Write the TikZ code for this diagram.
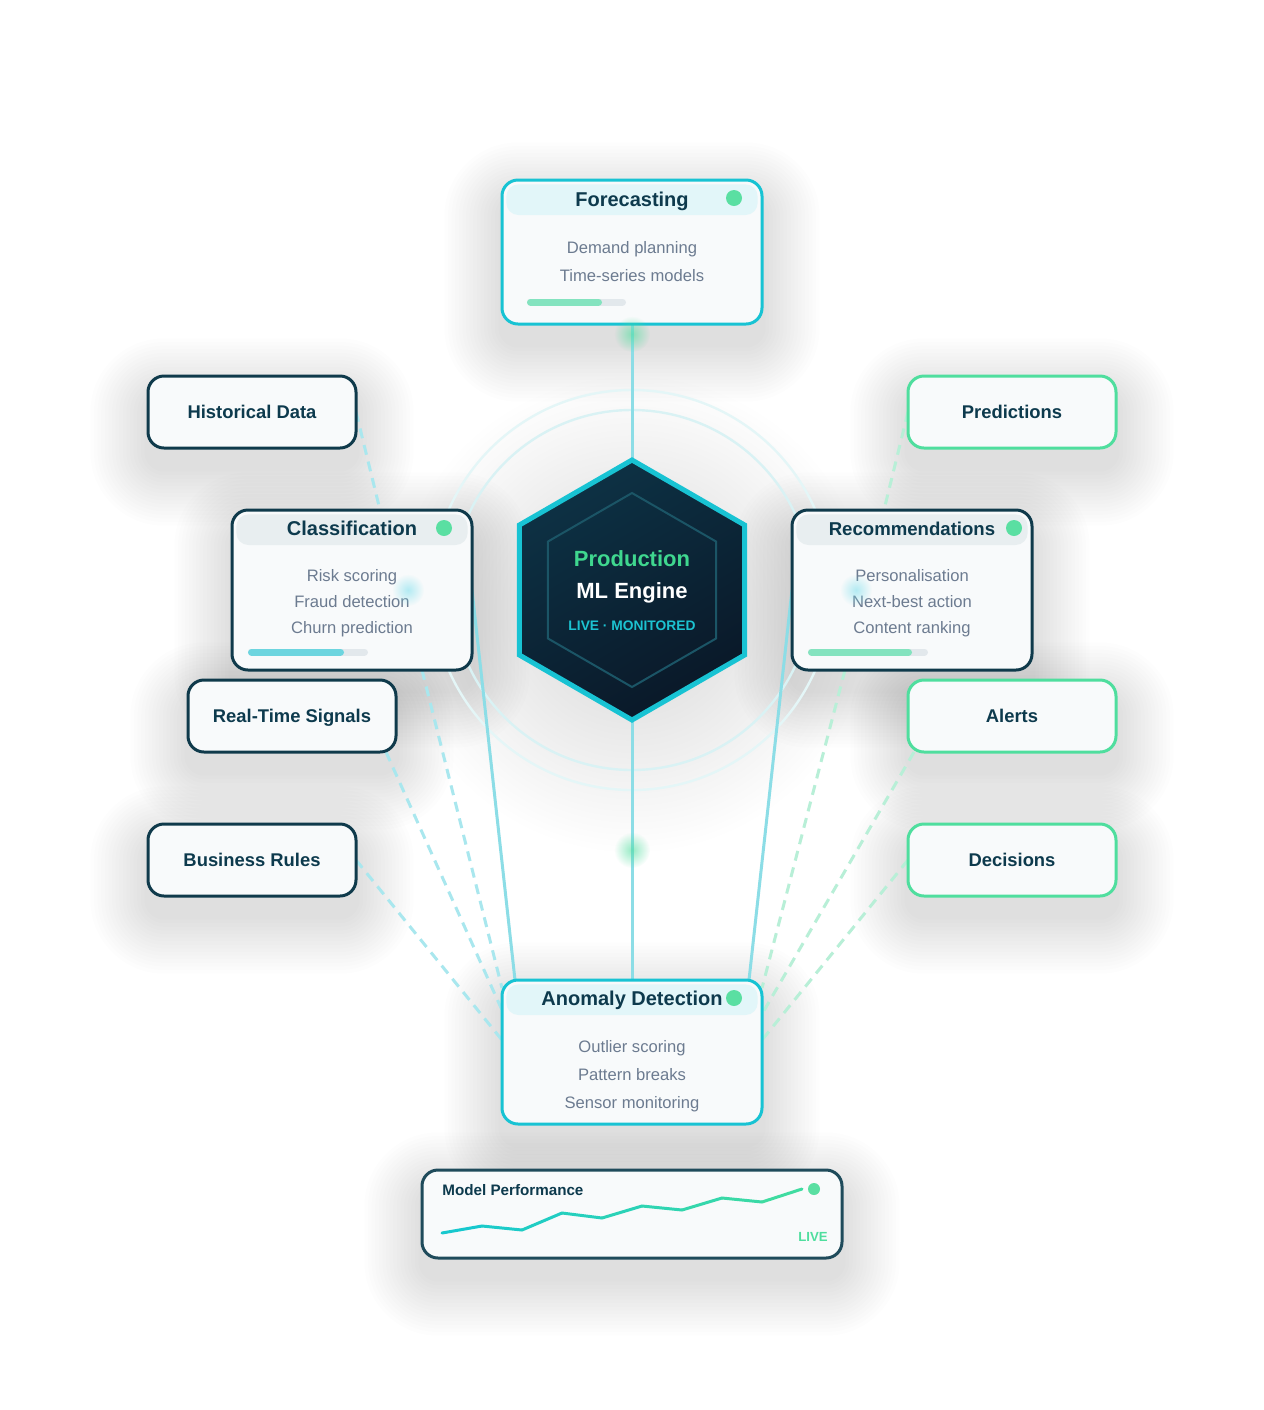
\documentclass[tikz,border=0pt]{standalone}
\usepackage{fontspec}
\setmainfont{Liberation Sans}
\usepackage{tikz}
\usetikzlibrary{calc,shapes.geometric,fadings}

\definecolor{cyanedge}{HTML}{18C3D3}
\definecolor{greenedge}{HTML}{4FDE9E}
\definecolor{navyedge}{HTML}{0F3A4B}
\definecolor{perfedge}{HTML}{1F4B5B}
\definecolor{cardfill}{HTML}{F8FAFB}
\definecolor{bandcyan}{HTML}{E2F6F9}
\definecolor{bandgray}{HTML}{E8EEF0}
\definecolor{dotgreen}{HTML}{5ADFA2}
\definecolor{trackgray}{HTML}{E2E8EC}
\definecolor{barcyan}{HTML}{6DD5DF}
\definecolor{bargreen}{HTML}{84E3BF}
\definecolor{linkcyan}{HTML}{8CDDE6}
\definecolor{dashcyan}{HTML}{A9E7EE}
\definecolor{dashgreen}{HTML}{B8EFD7}
\definecolor{ringcol}{HTML}{D9F2F4}
\definecolor{hextop}{HTML}{0D3245}
\definecolor{hexbot}{HTML}{0A1828}
\definecolor{hexinner}{HTML}{1B5566}
\definecolor{prodgreen}{HTML}{3FD78F}
\definecolor{monocyan}{HTML}{1CC3D1}
\definecolor{titlecol}{HTML}{0D3A4D}
\definecolor{bodycol}{HTML}{6C7B90}
\definecolor{chartcyan}{HTML}{12C6D4}
\definecolor{chartgreen}{HTML}{40DCA0}
\definecolor{glowgreen}{HTML}{4FDE9E}
\definecolor{glowcyan}{HTML}{6FDCEB}

\pgfdeclarelayer{bg}
\pgfdeclarelayer{back}
\pgfsetlayers{bg,back,main}

\tikzfading[name=glowfade, inner color=transparent!0, outer color=transparent!100]

\tikzset{
  card/.style={draw, line width=1.5pt, rounded corners=8pt, fill=cardfill, inner sep=0pt, outer sep=0pt},
  bigcard/.style={card, draw=cyanedge, minimum width=130pt, minimum height=72pt},
  midcard/.style={card, draw=navyedge, minimum width=120pt, minimum height=80pt},
  perfcard/.style={card, draw=perfedge, minimum width=210pt, minimum height=44pt},
  inbox/.style={card, draw=navyedge, minimum width=104pt, minimum height=36pt, text=titlecol,
    font=\bfseries\fontsize{9.2}{11}\selectfont, text height=6.6pt, text depth=0pt},
  outbox/.style={inbox, draw=greenedge},
  hexa/.style={regular polygon, regular polygon sides=6, shape border rotate=30, minimum size=130pt,
    inner sep=0pt, outer sep=0pt, draw=cyanedge, line width=2.5pt, top color=hextop, bottom color=hexbot, shading angle=30},
  hexin/.style={regular polygon, regular polygon sides=6, shape border rotate=30, minimum size=97pt,
    inner sep=0pt, draw=hexinner, line width=1pt},
  cardtitle/.style={anchor=base, text=titlecol, font=\bfseries\fontsize{10}{12}\selectfont},
  cardline/.style={anchor=base, text=bodycol, font=\fontsize{8.3}{10}\selectfont},
  solidlink/.style={draw=linkcyan, line width=1.5pt},
  dashlink/.style={line width=1.5pt, dash pattern=on 5pt off 3.5pt},
  bar/.style={line width=3.5pt, line cap=round},
  chartline/.style={line width=1.5pt, line cap=round},
}

\begin{document}
\begin{tikzpicture}[x=0.5pt,y=-0.5pt]
\useasboundingbox (0,0) rectangle (1264,1410);
\begin{pgfonlayer}{bg}
\fill[white] (0,0) rectangle (1264,1410);
\end{pgfonlayer}

% inputs and outputs
\node[inbox] (hist) at (252,412) {Historical Data};
\node[inbox] (rts) at (292,716) {Real-Time Signals};
\node[inbox] (bus) at (252,860) {Business Rules};
\node[outbox] (pred) at (1012,412) {Predictions};
\node[outbox] (alr) at (1012,716) {Alerts};
\node[outbox] (dec) at (1012,860) {Decisions};

% engine
\node[hexa] (eng) at (632,590) {};
\node[hexin] at (eng.center) {};
\node[anchor=base, text=prodgreen, font=\bfseries\fontsize{11}{13}\selectfont] at (632,566) {Production};
\node[anchor=base, text=white, font=\bfseries\fontsize{11}{13}\selectfont] at (632,598) {ML Engine};
\node[anchor=base, text=monocyan, font=\bfseries\fontsize{6.9}{8}\selectfont] at (632,630) {LIVE · MONITORED};

% model cards
\node[bigcard] (fc) at (632,252) {};
\node[midcard] (cls) at (352,590) {};
\node[midcard] (rec) at (912,590) {};
\node[bigcard] (ano) at (632,1052) {};
\node[perfcard] (perf) at (632,1214) {};

\foreach \n/\c in {fc/bandcyan, cls/bandgray, rec/bandgray, ano/bandcyan}
  \fill[\c, rounded corners=6pt] ([shift={(2.2pt,-2.2pt)}]\n.north west) rectangle ([shift={(-2.2pt,-17.5pt)}]\n.north east);

\node[cardtitle] at ($(fc.north)+(0,26)$) {Forecasting};
\node[cardtitle] at ($(cls.north)+(0,25)$) {Classification};
\node[cardtitle, font=\bfseries\fontsize{9.3}{12}\selectfont] at ($(rec.north)+(0,25)$) {Recommendations};
\node[cardtitle] at ($(ano.north)+(0,25)$) {Anomaly Detection};

\foreach \t [count=\i] in {Demand planning, Time-series models}
  \node[cardline] at ($(fc.north)+(0,45+28*\i)$) {\t};
\foreach \t [count=\i] in {Risk scoring, Fraud detection, Churn prediction}
  \node[cardline] at ($(cls.north)+(0,46+25.7*\i)$) {\t};
\foreach \t [count=\i] in {Personalisation, Next-best action, Content ranking}
  \node[cardline] at ($(rec.north)+(0,46+25.7*\i)$) {\t};
\foreach \t [count=\i] in {Outlier scoring, Pattern breaks, Sensor monitoring}
  \node[cardline] at ($(ano.north)+(0,44+28*\i)$) {\t};

\fill[dotgreen] ($(fc.north east)+(-28,18)$) circle (4pt);
\fill[dotgreen] ($(cls.north east)+(-28,18)$) circle (4pt);
\fill[dotgreen] ($(rec.north east)+(-18,18)$) circle (4pt);
\fill[dotgreen] ($(ano.north east)+(-28,18)$) circle (4pt);

% progress bars
\draw[bar, trackgray] (530.5,302) -- (622.5,302);
\draw[bar, bargreen] (530.5,302) -- (598.5,302);
\draw[bar, trackgray] (251.5,652) -- (364.5,652);
\draw[bar, barcyan] (251.5,652) -- (340.5,652);
\draw[bar, trackgray] (811.5,652) -- (924.5,652);
\draw[bar, bargreen] (811.5,652) -- (908.5,652);

% performance strip
\node[anchor=base west, inner sep=0pt, text=titlecol, font=\bfseries\fontsize{7.6}{9}\selectfont] at ($(perf.north west)+(20,25)$) {Model Performance};
\node[anchor=base east, inner sep=0pt, text=greenedge, font=\bfseries\fontsize{6.6}{8}\selectfont] at ($(perf.south east)+(-14,-17)$) {LIVE};
\foreach \xa/\ya/\xb/\yb [count=\i] in {442/1233/482/1226, 482/1226/522/1230, 522/1230/562/1213,
    562/1213/602/1218, 602/1218/642/1206, 642/1206/682/1210, 682/1210/722/1198, 722/1198/762/1202, 762/1202/802/1189}{
  \pgfmathtruncatemacro\mix{100-11*\i}
  \draw[chartline, draw=chartcyan!\mix!chartgreen] (\xa,\ya) -- (\xb,\yb);
}
\fill[dotgreen] (814,1189) circle (3pt);

\begin{pgfonlayer}{back}
% soft shadows
\fill[black, path fading=glowfade, fill opacity=0.16] ($(eng.center)+(0,24)$) circle (120pt);
\foreach \n in {hist,rts,bus,pred,alr,dec,fc,cls,rec,ano,perf}
  \foreach \k in {1,...,16}{
    \pgfmathsetlengthmacro\d{\k*1.8pt}
    \pgfmathsetlengthmacro\r{\k*1.8pt+8pt}
    \fill[black, fill opacity=0.0075, rounded corners=\r]
      ([shift={(-\d,\d-10pt)}]\n.north west) rectangle ([shift={(\d,-\d-10pt)}]\n.south east);
  }
\draw[ringcol, line width=1.2pt] (eng.center) circle (90pt);
\draw[ringcol!70, line width=1.2pt] (eng.center) circle (100pt);
% links
\draw[solidlink] (fc.south) -- (eng.north);
\draw[solidlink] (eng.south) -- (ano.north);
\draw[solidlink] (cls.east) -- ([xshift=6.5pt]ano.north west);
\draw[solidlink] (rec.west) -- ([xshift=-6.5pt]ano.north east);
\draw[dashlink, dashcyan] (hist.east) -- ([xshift=14pt]cls.north);
\draw[dashlink, dashcyan] ([xshift=35pt]cls.south) -- ([yshift=-4pt]ano.north west);
\draw[dashlink, dashcyan] ([xshift=-5pt]rts.south east) -- ([yshift=-15pt]ano.north west);
\draw[dashlink, dashcyan] (bus.east) -- ([yshift=-30pt]ano.north west);
\draw[dashlink, dashgreen] (pred.west) -- ([xshift=-14pt]rec.north);
\draw[dashlink, dashgreen] ([xshift=-33.5pt]rec.south) -- ([yshift=-4pt]ano.north east);
\draw[dashlink, dashgreen] ([xshift=3pt]alr.south west) -- ([yshift=-17pt]ano.north east);
\draw[dashlink, dashgreen] (dec.west) -- ([yshift=-30pt]ano.north east);
\end{pgfonlayer}

% glows
\fill[glowgreen, path fading=glowfade, fill opacity=0.6] (632,334) circle (9pt);
\fill[glowgreen, path fading=glowfade, fill opacity=0.6] (632,850) circle (9pt);
\fill[glowcyan, path fading=glowfade, fill opacity=0.5] (408,590) circle (8pt);
\fill[glowcyan, path fading=glowfade, fill opacity=0.5] (856,590) circle (8pt);
\end{tikzpicture}
\end{document}
